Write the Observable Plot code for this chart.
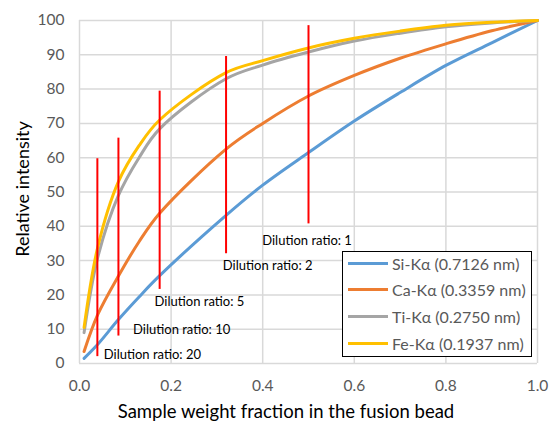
<!DOCTYPE html>
<html><head><meta charset="utf-8">
<script src="https://cdn.jsdelivr.net/npm/d3@7"></script>
<script src="https://cdn.jsdelivr.net/npm/@observablehq/plot@0.6"></script>
<style>
body{margin:0;background:#fff;font-family:Lato,"Open Sans",sans-serif;}
#wrap{position:relative;width:552px;height:421px;overflow:hidden;}
#wrap svg{position:absolute;left:0;top:0;}
.ytitle{position:absolute;left:22px;top:189px;transform:translate(-50%,-50%) rotate(-90deg);font-size:18px;color:#000;white-space:nowrap;}
.xtitle{position:absolute;left:286px;top:411px;transform:translate(-50%,-50%);font-size:18.5px;color:#000;white-space:nowrap;}
#legend{position:absolute;left:342px;top:251px;width:188px;height:104px;border:1.5px solid #000;background:#fff;}
.lg{position:absolute;left:5px;height:20px;display:flex;align-items:center;font-size:16px;color:#595959;white-space:nowrap;}
.lg span.sw{display:inline-block;width:40px;height:3px;margin-right:4px;}
</style></head><body><div id="wrap"></div>
<script>
const seriesNames = ["Si-Kα (0.7126 nm)","Ca-Kα (0.3359 nm)","Ti-Kα (0.2750 nm)","Fe-Kα (0.1937 nm)"];
const seriesColors = ["#5b9bd5","#ed7d31","#a5a5a5","#ffc000"];
const xValues = [0.01,0.04,0.085,0.13,0.175,0.32,0.4,0.5,0.6,0.7,0.8,0.9,1.0];
const siValues = [1.5,5.6,12.8,19.4,25.6,43.2,52,61.5,70.7,79,86.9,93.5,100];
const caValues = [3.5,14.3,25.5,35.5,43.8,62.5,70,78,84,89,93.2,97,100];
const tiValues = [9,31,49,60,68.4,83,87,90.8,94,96.3,98.2,99.3,100];
const feValues = [10.5,34,53,63.5,71,84.8,88.3,92,94.8,96.9,98.6,99.5,100];
const dilutionLabels = ["Dilution ratio: 1","Dilution ratio: 2","Dilution ratio: 5","Dilution ratio: 10","Dilution ratio: 20"];
const dilutionX = [0.5,0.32,0.175,0.085,0.039];
const dilutionTop = [98.5,89.5,79.4,65.7,59.7];
const dilutionBottom = [40.7,32,21.6,8,2];
const labelX = [0.399,0.313,0.164,0.117,0.053];
const labelY = [35.9,28.5,18,9.8,2.6];
const xTicks = [0,0.2,0.4,0.6,0.8,1.0];
const yTicks = [0,10,20,30,40,50,60,70,80,90,100];

const allValues = [siValues,caValues,tiValues,feValues];
const rows = [];
seriesNames.forEach((s,i)=>xValues.forEach((x,j)=>rows.push({series:s,x,y:allValues[i][j]})));
const dil = dilutionLabels.map((t,i)=>({text:t,x:dilutionX[i],y1:dilutionBottom[i],y2:dilutionTop[i],lx:labelX[i],ly:labelY[i]}));

const chart = Plot.plot({
  width:552,height:421,marginLeft:79,marginRight:15,marginTop:20,marginBottom:58,
  style:{fontFamily:"Lato,'Open Sans',sans-serif",fontSize:"15px",background:"transparent",overflow:"visible"},
  x:{domain:[0,1]},
  y:{domain:[0,100]},
  color:{domain:seriesNames,range:seriesColors},
  marks:[
    Plot.gridX(xTicks,{stroke:"#d9d9d9",strokeOpacity:1,strokeWidth:1.5}),
    Plot.gridY(yTicks,{stroke:"#d9d9d9",strokeOpacity:1,strokeWidth:1.5}),
    Plot.axisX(xTicks,{tickSize:0,tickPadding:16,tickFormat:d=>d.toFixed(1),fill:"#595959",fontSize:15.5,label:null}),
    Plot.axisY(yTicks,{tickSize:0,tickPadding:15,fill:"#595959",fontSize:15.5,label:null}),
    Plot.line(rows,{x:"x",y:"y",stroke:"series",z:"series",curve:"catmull-rom",strokeWidth:3}),
    Plot.ruleX(dil,{x:"x",y1:"y1",y2:"y2",stroke:"#ff0000",strokeWidth:2}),
    Plot.text(dil,{x:"lx",y:"ly",text:"text",textAnchor:"start",lineAnchor:"middle",fontSize:13,fill:"#000"})
  ]
});
const wrap = document.getElementById("wrap");
wrap.appendChild(chart);
const yt=document.createElement("div");yt.className="ytitle";yt.textContent="Relative intensity";wrap.appendChild(yt);
const xt=document.createElement("div");xt.className="xtitle";xt.textContent="Sample weight fraction in the fusion bead";wrap.appendChild(xt);
const lg=document.createElement("div");lg.id="legend";wrap.appendChild(lg);
seriesNames.forEach((s,i)=>{
  const d=document.createElement("div");d.className="lg";d.style.top=(1+i*26.7)+"px";
  const sw=document.createElement("span");sw.className="sw";sw.style.background=seriesColors[i];
  d.appendChild(sw);d.appendChild(document.createTextNode(s));lg.appendChild(d);
});
</script></body></html>
